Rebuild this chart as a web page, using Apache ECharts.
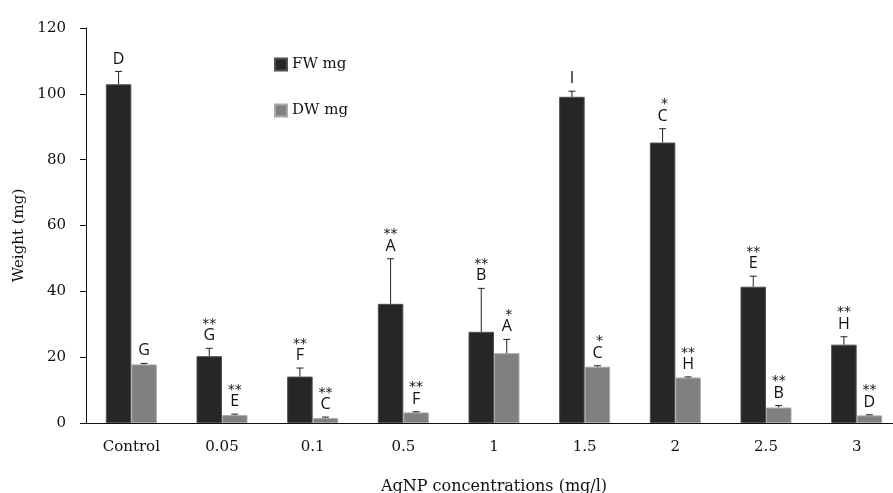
<!DOCTYPE html>
<html>
<head>
<meta charset="utf-8">
<script src="https://cdn.jsdelivr.net/npm/echarts@6/dist/echarts.min.js"></script>
<style>html,body{margin:0;padding:0;background:#fff;}#chart{width:893px;height:493px;}</style>
</head>
<body>
<div id="chart"></div>
<script>
var categories = ['Control', '0.05', '0.1', '0.5', '1', '1.5', '2', '2.5', '3'];
var fwValues = [102.9, 20.3, 14.1, 36.2, 27.7, 99.1, 85.2, 41.4, 23.8];
var fwErrors = [3.9, 2.4, 2.6, 13.7, 13.2, 1.7, 4.2, 3.2, 2.4];
var fwLetters = ['D', 'G', 'F', 'A', 'B', 'I', 'C', 'E', 'H'];
var fwStars = ['', '**', '**', '**', '**', '', '*', '**', '**'];
var dwValues = [17.8, 2.4, 1.5, 3.2, 21.2, 17.1, 13.8, 4.7, 2.3];
var dwErrors = [0.3, 0.3, 0.3, 0.2, 4.2, 0.3, 0.2, 0.6, 0.2];
var dwLetters = ['G', 'E', 'C', 'F', 'A', 'C', 'H', 'B', 'D'];
var dwStars = ['', '**', '**', '**', '*', '*', '**', '**', '**'];
var yTicks = [0, 20, 40, 60, 80, 100, 120];

var BAR_W = 25.5;
var serif = 'DejaVu Serif';

function errData(vals, errs, letters, stars) {
  return vals.map(function (v, i) { return [i, v, errs[i], letters[i], stars[i]]; });
}

function makeRender(offset) {
  return function (params, api) {
    var i = api.value(0), v = api.value(1), e = api.value(2);
    var idx = params.dataIndex;
    var data = params.seriesIndex === 2 ? fwD : dwD;
    var letter = data[idx][3], star = data[idx][4];
    var base = api.coord([i, v]);
    var top = api.coord([i, v + e]);
    var x = base[0] + offset;
    var children = [
      { type: 'line', shape: { x1: x, y1: base[1], x2: x, y2: top[1] }, style: { stroke: '#222', lineWidth: 1 } },
      { type: 'line', shape: { x1: x - 3.5, y1: top[1], x2: x + 3.5, y2: top[1] }, style: { stroke: '#222', lineWidth: 1 } },
      { type: 'text', style: { text: letter, x: x, y: top[1] - 12.5, textAlign: 'center', textVerticalAlign: 'middle', font: '16px "Open Sans"', fill: '#111' } }
    ];
    if (star) {
      children.push({ type: 'text', style: { text: star, x: x + (star.length === 1 ? 2 : 0), y: top[1] - 24, textAlign: 'center', textVerticalAlign: 'middle', font: '14px "DejaVu Sans"', fill: '#111' } });
    }
    return { type: 'group', children: children };
  };
}

var fwD = errData(fwValues, fwErrors, fwLetters, fwStars);
var dwD = errData(dwValues, dwErrors, dwLetters, dwStars);

var chart = echarts.init(document.getElementById('chart'));
chart.setOption({
  animation: false,
  backgroundColor: '#fff',
  grid: { left: 86, top: 28, width: 816, height: 395, outerBoundsMode: 'none', containLabel: false },
  legend: {
    data: ['FW mg', 'DW mg'],
    orient: 'vertical',
    left: 269, top: 52,
    icon: 'rect', itemWidth: 12, itemHeight: 12, itemGap: 31,
    textStyle: { fontFamily: serif, fontSize: 15, color: '#111' }
  },
  xAxis: {
    type: 'category', data: categories,
    name: 'AgNP concentrations (mg/l)', nameLocation: 'middle', nameGap: 56,
    nameTextStyle: { fontFamily: serif, fontSize: 16, color: '#111' },
    axisLine: { lineStyle: { color: '#111', width: 1 } },
    axisTick: { length: 5, lineStyle: { color: '#111' } },
    axisLabel: { fontFamily: serif, fontSize: 15, color: '#111', margin: 17 }
  },
  yAxis: {
    type: 'value', min: 0, max: 120, interval: 20,
    name: 'Weight (mg)', nameLocation: 'middle', nameGap: 48,
    nameTextStyle: { fontFamily: serif, fontSize: 15, color: '#111', padding: [0, 20, 0, 0] },
    axisLine: { show: true, lineStyle: { color: '#111', width: 1 } },
    axisTick: { show: true, length: 6, lineStyle: { color: '#111' } },
    axisLabel: { fontFamily: serif, fontSize: 15, color: '#111', margin: 20 },
    splitLine: { show: false }
  },
  series: [
    { name: 'FW mg', type: 'bar', data: fwValues, barWidth: BAR_W, barGap: '0%',
      itemStyle: { color: '#262626', borderColor: '#505050', borderWidth: 1 } },
    { name: 'DW mg', type: 'bar', data: dwValues, barWidth: BAR_W, barGap: '0%',
      itemStyle: { color: '#808080', borderColor: '#a8a8a8', borderWidth: 1 } },
    { type: 'custom', data: fwD, renderItem: makeRender(-BAR_W / 2), clip: false, z: 5 },
    { type: 'custom', data: dwD, renderItem: makeRender(BAR_W / 2), clip: false, z: 5 }
  ]
});
</script>
</body>
</html>
